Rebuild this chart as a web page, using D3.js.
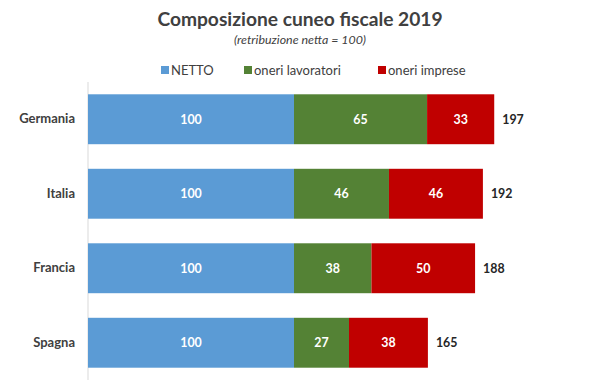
<!DOCTYPE html>
<html><head><meta charset="utf-8">
<script src="https://cdn.jsdelivr.net/npm/d3@7"></script>
<style>body{margin:0;background:#fff}svg{display:block;font-family:Lato,"Open Sans",sans-serif}</style>
</head><body><svg id="c" width="600" height="391"></svg>
<script>
const categories = ["Germania","Italia","Francia","Spagna"];
const netto = [100,100,100,100];
const oneriLavoratori = [64.6,46.1,37.6,26.7];
const oneriImprese = [32.6,45.6,50.3,38.3];
const seriesNames = ["NETTO","oneri lavoratori","oneri imprese"];
const colors = ["#5B9BD5","#548235","#C00000"];

const svg = d3.select("#c");
const rows = categories.map((c,i)=>({cat:c, NETTO:netto[i], "oneri lavoratori":oneriLavoratori[i], "oneri imprese":oneriImprese[i]}));
const stack = d3.stack().keys(seriesNames)(rows);

const x = d3.scaleLinear().domain([0,100]).range([88,294]);
const y = d3.scaleBand().domain(categories).range([82,380]).paddingInner(0.33).paddingOuter(0.165);

svg.append("text").attr("x",300).attr("y",26).attr("text-anchor","middle")
  .attr("font-size",19.2).attr("font-weight","bold").attr("fill","#404040").text("Composizione cuneo fiscale 2019");
svg.append("text").attr("x",300).attr("y",44).attr("text-anchor","middle")
  .attr("font-size",12.4).attr("font-style","italic").attr("fill","#404040").text("(retribuzione netta = 100)");

const legX = [161,244,378];
const lg = svg.append("g");
seriesNames.forEach((s,i)=>{
  lg.append("rect").attr("x",legX[i]).attr("y",66).attr("width",8).attr("height",8).attr("fill",colors[i]);
  lg.append("text").attr("x",legX[i]+10).attr("y",74.5).attr("font-size",13).attr("fill","#404040").text(s);
});

svg.append("line").attr("x1",88).attr("x2",88).attr("y1",82).attr("y2",380).attr("stroke","#d9d9d9");

stack.forEach((layer,k)=>{
  const g = svg.append("g");
  g.selectAll("rect").data(layer).join("rect")
    .attr("x",d=>x(d[0])).attr("width",d=>x(d[1])-x(d[0]))
    .attr("y",d=>y(d.data.cat)).attr("height",y.bandwidth()).attr("fill",colors[k]);
  g.selectAll("text").data(layer).join("text")
    .attr("x",d=>(x(d[0])+x(d[1]))/2).attr("y",d=>y(d.data.cat)+y.bandwidth()/2+4.5)
    .attr("text-anchor","middle").attr("font-size",12.4).attr("font-weight","bold").attr("fill","#fff")
    .text(d=>Math.round(d[1]-d[0]));
});

const last = stack[stack.length-1];
svg.append("g").selectAll("text").data(last).join("text")
  .attr("x",d=>x(d[1])+8).attr("y",d=>y(d.data.cat)+y.bandwidth()/2+4.5)
  .attr("font-size",12.4).attr("font-weight","bold").attr("fill","#262626").text(d=>Math.round(d[1]));

const yAxis = d3.axisLeft(y).tickSize(0).tickPadding(13);
const ya = svg.append("g").attr("transform","translate(88,0)").call(yAxis);
ya.select(".domain").remove();
ya.selectAll("text").attr("font-size",13).attr("font-weight","bold").attr("fill","#404040").attr("font-family","Lato,'Open Sans',sans-serif");
</script></body></html>
